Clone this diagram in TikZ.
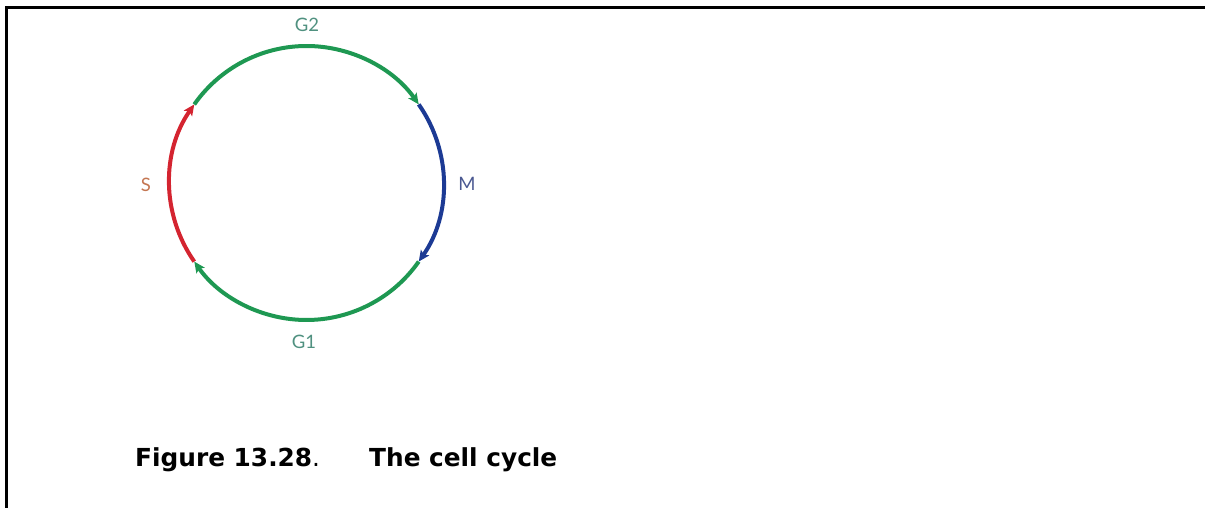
\documentclass[tikz,border=0pt]{standalone}
\usepackage{fontspec}
\setmainfont{DejaVu Sans}
\newfontfamily\labelfont{Lato}
\usetikzlibrary{arrows.meta}
\definecolor{phgreen}{RGB}{30,152,82}
\definecolor{phred}{RGB}{212,36,48}
\definecolor{phblue}{RGB}{28,58,148}
\definecolor{lblteal}{RGB}{80,145,128}
\definecolor{lblorange}{RGB}{196,118,82}
\definecolor{lblblue}{RGB}{74,88,145}
\tikzset{
  phase/.style={line width=4pt, -{Stealth[length=11pt,width=10pt,inset=2.5pt]}},
  phlabel/.style={font=\labelfont\fontsize{18.5}{18.5}\selectfont, inner sep=0pt},
  caption/.style={font=\bfseries\fontsize{24.8}{24.8}\selectfont, anchor=base west, inner sep=0pt},
}
\begin{document}
\begin{tikzpicture}[x=1pt,y=1pt]
\useasboundingbox (0,0) rectangle (1205,508);
% frame
\draw[line width=2.4pt] (6.5,0) -- (6.5,500.5) -- (1205,500.5);
% cycle
\coordinate (c) at (306.5,325);
\def\R{137}
\draw[phase, phred]   ([shift={(215:\R)}]c) arc[start angle=215, end angle=145, radius=\R];
\draw[phase, phgreen] ([shift={(145:\R)}]c) arc[start angle=145, end angle=35, radius=\R];
\draw[phase, phblue]  ([shift={(35:\R)}]c)  arc[start angle=35, end angle=-35, radius=\R];
\draw[phase, phgreen] ([shift={(-35:\R)}]c) arc[start angle=-35, end angle=-145, radius=\R];
% labels
\node[phlabel, text=lblteal]   (g2) at (307,483) {G2};
\node[phlabel, text=lblorange] (s)  at (146,323) {S};
\node[phlabel, text=lblblue]   (m)  at (467,324) {M};
\node[phlabel, text=lblteal]   (g1) at (304,166) {G1};
% caption
\node[caption] (fig) at (135,41) {Figure 13.28\textmd{.}};
\node[caption] (ttl) at (369,41) {The cell cycle};
\end{tikzpicture}
\end{document}
